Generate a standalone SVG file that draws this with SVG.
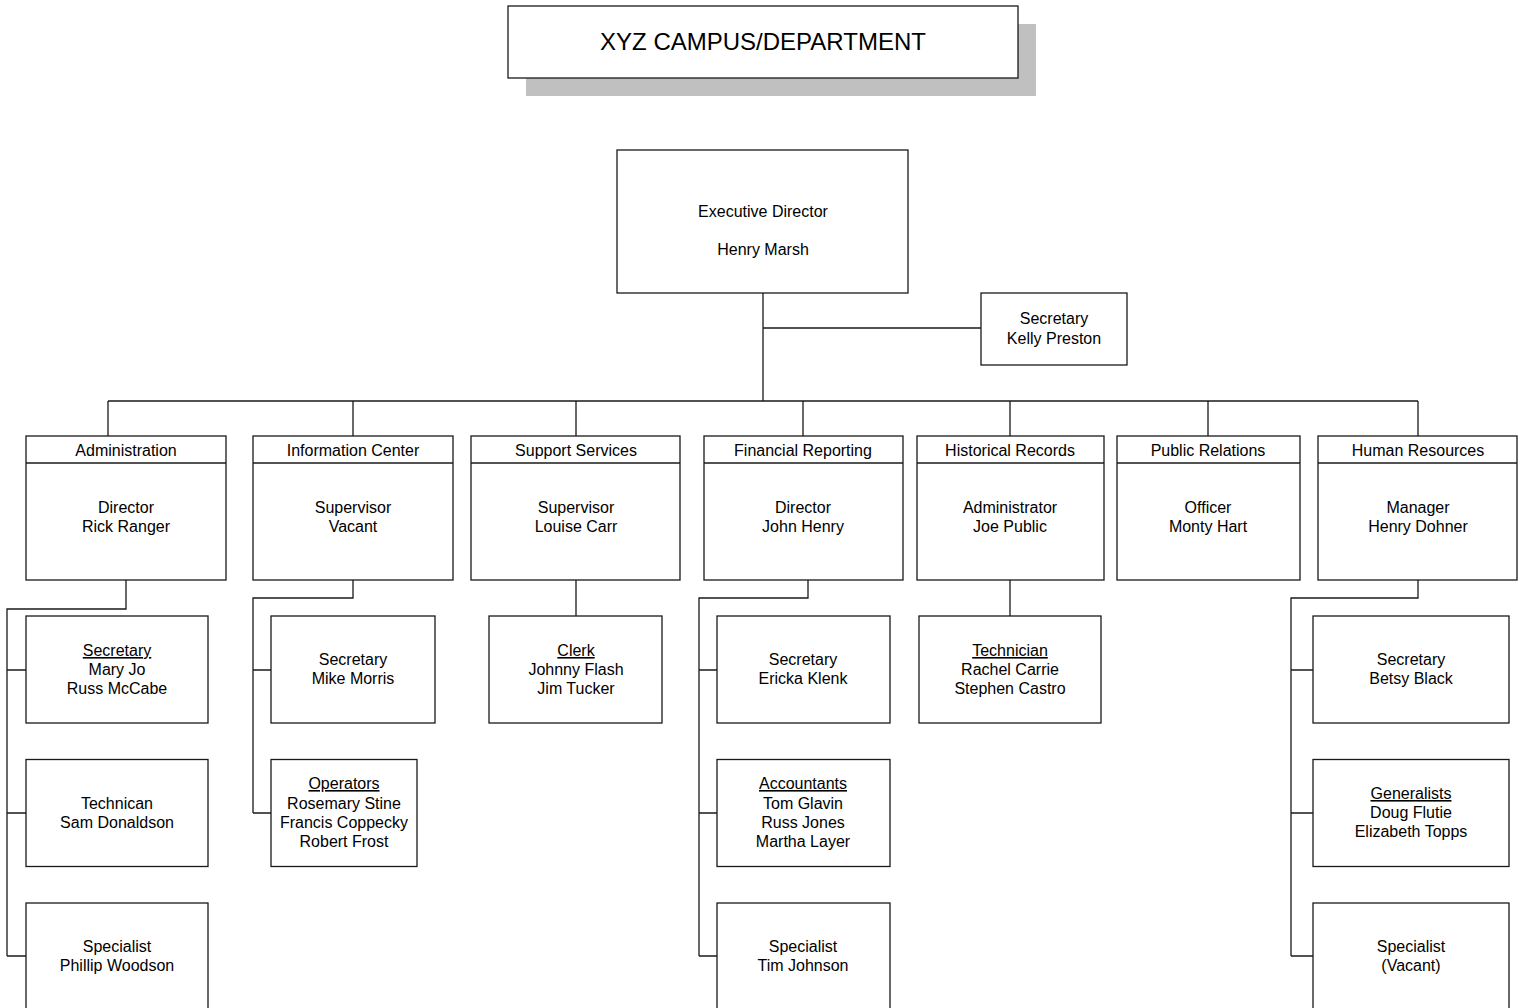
<svg xmlns="http://www.w3.org/2000/svg" width="1523" height="1008" viewBox="0 0 1523 1008">
<style>
.box{fill:#fff;stroke:#1a1a1a;stroke-width:1.3}
.ln{fill:none;stroke:#1a1a1a;stroke-width:1.3}
text{font-family:"Liberation Sans",Arial,sans-serif;font-size:16px;fill:#000;text-anchor:middle}
.u{text-decoration:underline}
</style>
<rect width="1523" height="1008" fill="#fff"/>
<g id="title">
<rect x="526" y="24" width="510" height="72" fill="#c0c0c0"/>
<rect class="box" x="508" y="6" width="510" height="72"/>
<text x="763" y="50" style="font-size:24px">XYZ CAMPUS/DEPARTMENT</text>
</g>
<g id="connectors">
<path class="ln" d="M763 293V401M763 328H981M108 401H1418M108 401V436M353 401V436M576 401V436M803 401V436M1010 401V436M1208 401V436M1418 401V436"/>
<path class="ln" d="M126 580V609H7V956M7 670H26M7 813H26M7 956H26"/>
<path class="ln" d="M353 580V598H253V813M253 670H271M253 813H271"/>
<path class="ln" d="M576 580V616"/>
<path class="ln" d="M808 580V598H699V956M699 670H717M699 813H717M699 956H717"/>
<path class="ln" d="M1010 580V616"/>
<path class="ln" d="M1418 580V598H1291V956M1291 670H1313M1291 813H1313M1291 956H1313"/>
</g>
<g id="exec">
<rect class="box" x="617" y="150" width="291" height="143"/>
<text x="763" y="217">Executive Director</text>
<text x="763" y="255">Henry Marsh</text>
</g>
<g id="exec-secretary">
<rect class="box" x="981" y="293" width="146" height="72"/>
<text x="1054" y="324">Secretary</text>
<text x="1054" y="344">Kelly Preston</text>
</g>
<g id="dept-admin">
<rect class="box" x="26" y="436" width="200" height="144"/>
<line class="ln" x1="26" y1="463" x2="226" y2="463"/>
<text x="126" y="456">Administration</text>
<text x="126" y="513">Director</text>
<text x="126" y="532">Rick Ranger</text>
</g>
<g id="dept-info">
<rect class="box" x="253" y="436" width="200" height="144"/>
<line class="ln" x1="253" y1="463" x2="453" y2="463"/>
<text x="353" y="456">Information Center</text>
<text x="353" y="513">Supervisor</text>
<text x="353" y="532">Vacant</text>
</g>
<g id="dept-support">
<rect class="box" x="471" y="436" width="209" height="144"/>
<line class="ln" x1="471" y1="463" x2="680" y2="463"/>
<text x="576" y="456">Support Services</text>
<text x="576" y="513">Supervisor</text>
<text x="576" y="532">Louise Carr</text>
</g>
<g id="dept-financial">
<rect class="box" x="704" y="436" width="199" height="144"/>
<line class="ln" x1="704" y1="463" x2="903" y2="463"/>
<text x="803" y="456">Financial Reporting</text>
<text x="803" y="513">Director</text>
<text x="803" y="532">John Henry</text>
</g>
<g id="dept-historical">
<rect class="box" x="917" y="436" width="187" height="144"/>
<line class="ln" x1="917" y1="463" x2="1104" y2="463"/>
<text x="1010" y="456">Historical Records</text>
<text x="1010" y="513">Administrator</text>
<text x="1010" y="532">Joe Public</text>
</g>
<g id="dept-pr">
<rect class="box" x="1117" y="436" width="183" height="144"/>
<line class="ln" x1="1117" y1="463" x2="1300" y2="463"/>
<text x="1208" y="456">Public Relations</text>
<text x="1208" y="513">Officer</text>
<text x="1208" y="532">Monty Hart</text>
</g>
<g id="dept-hr">
<rect class="box" x="1318" y="436" width="199" height="144"/>
<line class="ln" x1="1318" y1="463" x2="1517" y2="463"/>
<text x="1418" y="456">Human Resources</text>
<text x="1418" y="513">Manager</text>
<text x="1418" y="532">Henry Dohner</text>
</g>
<g id="admin-secretary">
<rect class="box" x="26" y="616" width="182" height="107"/>
<text x="117" y="656" class="u">Secretary</text>
<text x="117" y="675">Mary Jo</text>
<text x="117" y="694">Russ McCabe</text>
</g>
<g id="admin-technican">
<rect class="box" x="26" y="759.5" width="182" height="107"/>
<text x="117" y="809">Technican</text>
<text x="117" y="828">Sam Donaldson</text>
</g>
<g id="admin-specialist">
<rect class="box" x="26" y="903" width="182" height="120"/>
<text x="117" y="952">Specialist</text>
<text x="117" y="971">Phillip Woodson</text>
</g>
<g id="info-secretary">
<rect class="box" x="271" y="616" width="164" height="107"/>
<text x="353" y="665">Secretary</text>
<text x="353" y="684">Mike Morris</text>
</g>
<g id="info-operators">
<rect class="box" x="271" y="759.5" width="146" height="107"/>
<text x="344" y="789" class="u">Operators</text>
<text x="344" y="809">Rosemary Stine</text>
<text x="344" y="828">Francis Coppecky</text>
<text x="344" y="847">Robert Frost</text>
</g>
<g id="support-clerk">
<rect class="box" x="489" y="616" width="173" height="107"/>
<text x="576" y="656" class="u">Clerk</text>
<text x="576" y="675">Johnny Flash</text>
<text x="576" y="694">Jim Tucker</text>
</g>
<g id="fin-secretary">
<rect class="box" x="717" y="616" width="173" height="107"/>
<text x="803" y="665">Secretary</text>
<text x="803" y="684">Ericka Klenk</text>
</g>
<g id="fin-accountants">
<rect class="box" x="717" y="759.5" width="173" height="107"/>
<text x="803" y="789" class="u">Accountants</text>
<text x="803" y="809">Tom Glavin</text>
<text x="803" y="828">Russ Jones</text>
<text x="803" y="847">Martha Layer</text>
</g>
<g id="fin-specialist">
<rect class="box" x="717" y="903" width="173" height="120"/>
<text x="803" y="952">Specialist</text>
<text x="803" y="971">Tim Johnson</text>
</g>
<g id="hist-technician">
<rect class="box" x="919" y="616" width="182" height="107"/>
<text x="1010" y="656" class="u">Technician</text>
<text x="1010" y="675">Rachel Carrie</text>
<text x="1010" y="694">Stephen Castro</text>
</g>
<g id="hr-secretary">
<rect class="box" x="1313" y="616" width="196" height="107"/>
<text x="1411" y="665">Secretary</text>
<text x="1411" y="684">Betsy Black</text>
</g>
<g id="hr-generalists">
<rect class="box" x="1313" y="759.5" width="196" height="107"/>
<text x="1411" y="799" class="u">Generalists</text>
<text x="1411" y="818">Doug Flutie</text>
<text x="1411" y="837">Elizabeth Topps</text>
</g>
<g id="hr-specialist">
<rect class="box" x="1313" y="903" width="196" height="120"/>
<text x="1411" y="952">Specialist</text>
<text x="1411" y="971">(Vacant)</text>
</g>
</svg>
